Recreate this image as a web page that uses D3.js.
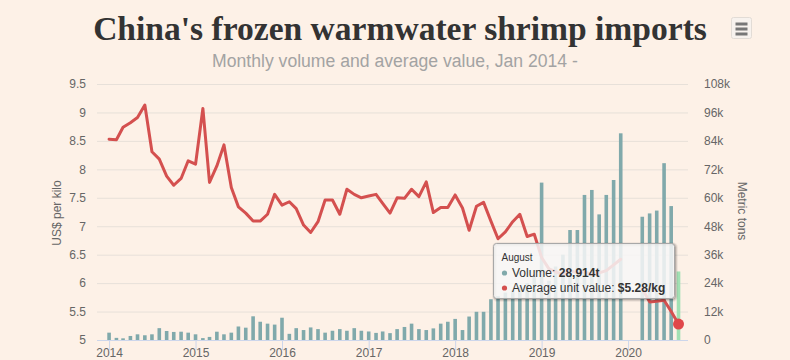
<!DOCTYPE html>
<html>
<head>
<meta charset="utf-8">
<script src="https://cdn.jsdelivr.net/npm/d3@7"></script>
<style>
  html, body { margin: 0; padding: 0; background: #fdf1e7; }
  svg { display: block; }
  text { font-family: "Liberation Sans", Arial, sans-serif; }
</style>
</head>
<body>
<svg id="chart" width="790" height="360"></svg>
<script>
// ---------- DATA ----------
const titleText = "China's frozen warmwater shrimp imports";
const subtitleText = "Monthly volume and average value, Jan 2014 -";
const leftAxisTitle = "US$ per kilo";
const rightAxisTitle = "Metric tons";

const months = [
  "2014-01","2014-02","2014-03","2014-04","2014-05","2014-06","2014-07","2014-08","2014-09","2014-10","2014-11","2014-12",
  "2015-01","2015-02","2015-03","2015-04","2015-05","2015-06","2015-07","2015-08","2015-09","2015-10","2015-11","2015-12",
  "2016-01","2016-02","2016-03","2016-04","2016-05","2016-06","2016-07","2016-08","2016-09","2016-10","2016-11","2016-12",
  "2017-01","2017-02","2017-03","2017-04","2017-05","2017-06","2017-07","2017-08","2017-09","2017-10","2017-11","2017-12",
  "2018-01","2018-02","2018-03","2018-04","2018-05","2018-06","2018-07","2018-08","2018-09","2018-10","2018-11","2018-12",
  "2019-01","2019-02","2019-03","2019-04","2019-05","2019-06","2019-07","2019-08","2019-09","2019-10","2019-11","2019-12",
  "2020-01","2020-02","2020-03","2020-04","2020-05","2020-06","2020-07","2020-08"
];

// Volume, thousand metric tons
const volume = [
  3.1, 0.9, 0.7, 1.7, 2.4, 2.0, 2.4, 5.0, 3.8, 3.4, 3.5, 3.1,
  2.4, 0.8, 1.3, 3.5, 2.4, 3.1, 5.7, 5.2, 10.0, 7.7, 6.9, 6.5,
  9.4, 2.6, 5.0, 4.2, 5.3, 4.6, 3.1, 3.9, 4.6, 3.9, 5.0, 3.9,
  3.6, 3.0, 3.6, 2.9, 4.6, 5.5, 6.9, 4.6, 4.2, 4.9, 6.9, 7.7,
  8.9, 4.2, 9.9, 11.9, 11.9, 17.2, 18.5, 20.0, 21.0, 22.5, 24.0, 27.0,
  66.4, 25.0, 31.0, 36.0, 46.4, 46.4, 61.2, 63.3, 53.0, 61.2, 67.5, 87.2,
  null, null, 52.0, 53.4, 54.6, 74.6, 56.5, 28.914
];

// Average unit value, US$ per kilo
const unitValue = [
  8.53, 8.52, 8.74, 8.82, 8.91, 9.13, 8.31, 8.18, 7.88, 7.72, 7.84, 8.15,
  8.09, 9.07, 7.77, 8.06, 8.43, 7.68, 7.34, 7.23, 7.09, 7.09, 7.21, 7.56,
  7.37, 7.43, 7.31, 7.02, 6.89, 7.08, 7.46, 7.46, 7.21, 7.65, 7.56, 7.50,
  7.53, 7.56, 7.40, 7.23, 7.50, 7.49, 7.65, 7.52, 7.78, 7.24, 7.33, 7.33,
  7.55, 7.32, 6.93, 7.35, 7.42, 7.09, 6.78, 6.90, 7.08, 7.21, 6.82, 6.86,
  6.45, 6.25, 6.20, 6.15, 6.22, 6.18, 6.20, 6.15, 6.18, 6.22, 6.32, 6.42,
  null, null, 5.90, 5.67, 5.68, 5.70, 5.50, 5.28
];

const leftTicks = [5, 5.5, 6, 6.5, 7, 7.5, 8, 8.5, 9, 9.5];
const rightTicks = [0, 12, 24, 36, 48, 60, 72, 84, 96, 108];
const yearTicks = ["2014","2015","2016","2017","2018","2019","2020"];
const hoverIndex = 79;

// ---------- LAYOUT ----------
const svg = d3.select("#chart");
const W = 790, H = 360;
const plot = { left: 97, right: 688, top: 84, bottom: 340 };
const C = {
  bg: "#fdf1e7", grid: "#e7e0d9", label: "#666666", axisLine: "#ccd6eb",
  bar: "#80a9ab", barHover: "#a1e0b3", line: "#d4504f", marker: "#e0474a",
  title: "#333333", subtitle: "#a3a3a3"
};

svg.append("rect").attr("width", W).attr("height", H).attr("fill", C.bg);

const parse = d3.timeParse("%Y-%m");
const data = months.map((m, i) => ({ date: parse(m), vol: volume[i], val: unitValue[i] }));

const x = d3.scaleTime()
  .domain([new Date(2013, 10, 11), new Date(2020, 8, 10)])
  .range([plot.left, plot.right]);
const yL = d3.scaleLinear().domain([5, 9.5]).range([plot.bottom, plot.top]);
const yR = d3.scaleLinear().domain([0, 108]).range([plot.bottom, plot.top]);

// ---------- TITLES ----------
function fitText(sel, target) {
  const fs = parseFloat(sel.attr("font-size"));
  const len = sel.node().getComputedTextLength();
  sel.attr("font-size", (fs * target / len).toFixed(2));
}
const title = svg.append("text")
  .attr("x", 400).attr("y", 40).attr("text-anchor", "middle")
  .attr("font-weight", "bold").attr("font-size", 30).attr("fill", C.title)
  .style("font-family", "'Liberation Serif', 'Times New Roman', serif")
  .text(titleText);
fitText(title, 614);

const sub = svg.append("text")
  .attr("x", 395).attr("y", 67).attr("text-anchor", "middle")
  .attr("font-size", 17).attr("fill", C.subtitle)
  .text(subtitleText);
fitText(sub, 366);

// Menu button
const menu = svg.append("g");
menu.append("rect").attr("x", 731.5).attr("y", 17.5).attr("width", 20).attr("height", 21)
  .attr("rx", 2).attr("fill", "#f7f2ee").attr("stroke", "#e2dcd6");
[24, 29, 34].forEach(yy => {
  menu.append("line").attr("x1", 735.5).attr("x2", 747.5).attr("y1", yy).attr("y2", yy)
    .attr("stroke", "#777").attr("stroke-width", 3);
});

// ---------- GRID ----------
const grid = svg.append("g")
  .attr("transform", `translate(${plot.left},0)`)
  .call(d3.axisRight(yL).tickValues(leftTicks).tickSize(plot.right - plot.left).tickFormat(""));
grid.select(".domain").remove();
grid.selectAll("line").attr("stroke", C.grid);

// ---------- AXES ----------
const left = svg.append("g")
  .attr("transform", `translate(${plot.left - 11},0)`)
  .call(d3.axisLeft(yL).tickValues(leftTicks).tickSize(0).tickPadding(0).tickFormat(d3.format("~g")));
left.select(".domain").remove();
left.selectAll("text").attr("fill", C.label).attr("font-size", 12)
  .style("font-family", "'Liberation Sans', Arial, sans-serif");

const right = svg.append("g")
  .attr("transform", `translate(${plot.right + 16},0)`)
  .call(d3.axisRight(yR).tickValues(rightTicks).tickSize(0).tickPadding(0)
    .tickFormat(d => d === 0 ? "0" : d + "k"));
right.select(".domain").remove();
right.selectAll("text").attr("fill", C.label).attr("font-size", 12)
  .style("font-family", "'Liberation Sans', Arial, sans-serif");

svg.append("text")
  .attr("transform", `translate(61,${(plot.top + plot.bottom) / 2 + 1}) rotate(-90)`)
  .attr("text-anchor", "middle").attr("font-size", 12).attr("fill", C.label)
  .text(leftAxisTitle);
svg.append("text")
  .attr("transform", `translate(738,${(plot.top + plot.bottom) / 2 - 1}) rotate(90)`)
  .attr("text-anchor", "middle").attr("font-size", 12).attr("fill", C.label)
  .text(rightAxisTitle);

// ---------- BARS ----------
const barW = 3.6;
svg.append("g").selectAll("rect")
  .data(data.filter(d => d.vol != null))
  .join("rect")
  .attr("x", d => x(d.date) - barW / 2)
  .attr("y", d => yR(d.vol))
  .attr("width", barW)
  .attr("height", d => yR(0) - yR(d.vol))
  .attr("fill", d => d === data[hoverIndex] ? C.barHover : C.bar);

// x axis
const xAxis = svg.append("g")
  .attr("transform", `translate(0,${plot.bottom})`)
  .call(d3.axisBottom(x).tickValues(yearTicks.map(y => new Date(+y, 0, 1)))
    .tickSize(10).tickFormat(d3.timeFormat("%Y")));
xAxis.select(".domain").attr("stroke", C.axisLine).attr("d", `M${plot.left},0.5H${plot.right}`);
xAxis.selectAll(".tick line").attr("stroke", C.axisLine);
xAxis.selectAll("text").attr("y", 8.5).attr("dy", "0.71em")
  .attr("fill", C.label).attr("font-size", 12)
  .style("font-family", "'Liberation Sans', Arial, sans-serif");

// ---------- LINE ----------
const line = d3.line()
  .defined(d => d.val != null)
  .x(d => x(d.date))
  .y(d => yL(d.val));
svg.append("path").datum(data)
  .attr("d", line)
  .attr("fill", "none")
  .attr("stroke", C.line)
  .attr("stroke-width", 3)
  .attr("stroke-linejoin", "round")
  .attr("stroke-linecap", "round");

const hp = data[hoverIndex];
svg.append("circle")
  .attr("cx", x(hp.date)).attr("cy", yL(hp.val)).attr("r", 5.5)
  .attr("fill", C.marker);

// ---------- TOOLTIP ----------
const tt = svg.append("g").attr("transform", "translate(493.5,243.5)");
const tw = 181, th = 55;
[[5, 0.05], [3, 0.1], [1, 0.15]].forEach(([sw, op]) => {
  tt.append("rect").attr("x", 1).attr("y", 1).attr("width", tw).attr("height", th).attr("rx", 3)
    .attr("fill", "none").attr("stroke", "#000").attr("stroke-opacity", op).attr("stroke-width", sw);
});
tt.append("rect").attr("width", tw).attr("height", th).attr("rx", 3)
  .attr("fill", "rgba(247,247,247,0.85)").attr("stroke", "#a8a8a8").attr("stroke-width", 1);

const monthName = d3.timeFormat("%B")(hp.date);
tt.append("text").attr("x", 8).attr("y", 17).attr("font-size", 10).attr("fill", "#333").text(monthName);

tt.append("circle").attr("cx", 11).attr("cy", 29.5).attr("r", 2.6).attr("fill", C.bar);
const t1 = tt.append("text").attr("x", 18.5).attr("y", 33).attr("font-size", 12).attr("fill", "#333");
t1.append("tspan").text("Volume: ");
t1.append("tspan").attr("font-weight", "bold").text(d3.format(",")(Math.round(hp.vol * 1000)) + "t");

tt.append("circle").attr("cx", 11).attr("cy", 44.5).attr("r", 2.6).attr("fill", C.line);
const t2 = tt.append("text").attr("x", 18.5).attr("y", 48).attr("font-size", 12).attr("fill", "#333");
t2.append("tspan").text("Average unit value: ");
t2.append("tspan").attr("font-weight", "bold").text("$" + hp.val.toFixed(2) + "/kg");
</script>
</body>
</html>
